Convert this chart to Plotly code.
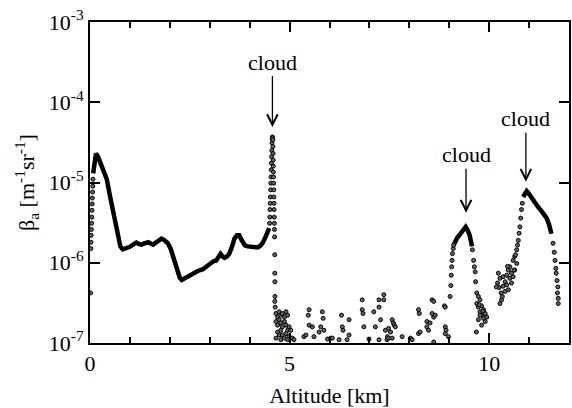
import numpy as np
import plotly.graph_objects as go

# ---------------- data ----------------
# continuous aerosol profile below the first cloud (km, m^-1 sr^-1)
profile_alt = [0.08, 0.12, 0.15, 0.2, 0.3, 0.42, 0.5, 0.58, 0.65, 0.71, 0.76, 0.82, 0.91,
               1.0, 1.08, 1.16, 1.22, 1.29, 1.36, 1.46, 1.52, 1.58, 1.65, 1.72, 1.79, 1.86,
               1.95, 2.02, 2.08, 2.14, 2.2, 2.25, 2.3, 2.4, 2.5, 2.58, 2.7, 2.83, 2.95, 3.04,
               3.1, 3.16, 3.22, 3.27, 3.32, 3.37, 3.43, 3.49, 3.55, 3.62, 3.68, 3.74, 3.79,
               3.83, 3.88, 3.95, 4.05, 4.15, 4.2, 4.26, 4.32, 4.38, 4.44, 4.49]
profile_beta = [1.3e-5, 2.0e-5, 2.3e-5, 2.1e-5, 1.55e-5, 1.1e-5, 6.8e-6, 4.2e-6, 2.7e-6, 1.9e-6,
                1.6e-6, 1.47e-6, 1.5e-6, 1.58e-6, 1.68e-6, 1.78e-6, 1.72e-6, 1.68e-6, 1.74e-6,
                1.8e-6, 1.74e-6, 1.68e-6, 1.78e-6, 1.92e-6, 2.0e-6, 1.92e-6, 1.75e-6, 1.5e-6,
                1.2e-6, 9.5e-7, 7.4e-7, 6.5e-7, 6.1e-7, 6.5e-7, 7.0e-7, 7.4e-7, 7.9e-7, 8.3e-7,
                9.2e-7, 1.0e-6, 1.05e-6, 1.06e-6, 1.15e-6, 1.29e-6, 1.2e-6, 1.15e-6, 1.2e-6,
                1.3e-6, 1.55e-6, 2.0e-6, 2.2e-6, 2.2e-6, 1.95e-6, 1.75e-6, 1.65e-6, 1.6e-6,
                1.58e-6, 1.55e-6, 1.55e-6, 1.62e-6, 1.75e-6, 2.0e-6, 2.35e-6, 2.7e-6]

# dense top of the cloud at ~9.4 km
peak2_alt = [9.11, 9.15, 9.2, 9.25, 9.3, 9.35, 9.41, 9.45, 9.5, 9.54, 9.57]
peak2_beta = [1.66e-6, 1.85e-6, 2.05e-6, 2.2e-6, 2.4e-6, 2.6e-6, 2.8e-6, 2.6e-6, 2.3e-6, 1.9e-6, 1.6e-6]

# dense top of the cloud at ~10.9 km
peak3_alt = [10.85, 10.9, 10.94, 11.0, 11.08, 11.14, 11.22, 11.31, 11.38, 11.44, 11.5, 11.56]
peak3_beta = [6.6e-6, 7.4e-6, 7.8e-6, 7.2e-6, 6.2e-6, 5.7e-6, 5.0e-6, 4.4e-6, 4.0e-6, 3.6e-6, 3.0e-6, 2.3e-6]

# individual points: near range
near_alt = [0.015, 0.02, 0.025, 0.03, 0.035, 0.04, 0.045, 0.05, 0.055, 0.06, 0.065, 0.07, 0.075]
near_beta = [4.2e-7, 1.5e-6, 1.8e-6, 2.2e-6, 2.6e-6, 3.1e-6, 3.7e-6, 4.5e-6, 5.4e-6, 6.4e-6,
             7.6e-6, 9.0e-6, 1.1e-5]

# individual points: cloud at ~4.6 km (rising and falling edges)
cloud1_alt = [4.50, 4.505, 4.51, 4.515, 4.52, 4.525, 4.53, 4.535, 4.54, 4.545, 4.55, 4.555,
              4.56, 4.565, 4.57, 4.575,
              4.58, 4.583, 4.586, 4.589, 4.592, 4.595, 4.598, 4.601, 4.604, 4.607, 4.61,
              4.613, 4.616, 4.619, 4.622, 4.625, 4.628, 4.63, 4.632, 4.634]
cloud1_beta = [3.1e-6, 3.7e-6, 4.6e-6, 5.5e-6, 6.6e-6, 8.1e-6, 9.8e-6, 1.17e-5, 1.44e-5,
               1.74e-5, 2.1e-5, 2.5e-5, 3.1e-5, 3.5e-5, 3.7e-5, 3.6e-5,
               3.4e-5, 2.8e-5, 2.3e-5, 1.9e-5, 1.6e-5, 1.35e-5, 1.17e-5, 9.8e-6, 8.1e-6,
               6.6e-6, 5.5e-6, 4.6e-6, 3.7e-6, 3.1e-6, 2.6e-6, 2.1e-6, 1.26e-6, 7.4e-7,
               5.8e-7, 3.8e-7]

# individual points: noisy clear air 4.6 - 9 km
noise_alt = [4.66, 4.70, 4.74, 4.78, 4.82, 4.87, 4.91, 4.95, 4.66, 4.70, 4.74, 4.78, 4.82,
             4.87, 4.91, 4.95, 4.99, 5.03, 4.70, 4.74, 4.78, 4.82, 4.87, 4.91, 4.99, 5.07,
             5.11, 4.78, 4.95, 4.66, 4.64, 4.63,
             5.36, 5.41, 5.49, 5.47, 5.49, 5.57, 5.61, 5.74, 5.78, 5.82, 5.84, 5.86, 5.95,
             6.03, 6.07, 6.30, 6.32, 6.34, 6.49, 6.49, 6.24, 6.44, 6.82, 6.82, 6.84, 6.86,
             6.99, 7.11, 7.15, 7.24, 7.24, 7.36, 7.36, 7.28, 7.24, 7.40, 7.44,
             7.48, 7.53, 7.57, 7.60, 7.62, 7.65, 7.45, 7.48, 7.57, 7.82, 8.03, 8.07, 8.23,
             8.25, 8.23, 8.27, 8.44, 8.44, 8.48, 8.52, 8.57, 8.61, 8.57, 8.61, 8.65, 8.61,
             8.88, 8.90, 8.90, 8.92, 8.90, 8.98]
noise_beta = [2.33e-7, 2.1e-7, 2.45e-7, 2.22e-7, 2.33e-7, 2.1e-7, 2.45e-7, 2.22e-7, 1.85e-7,
              1.67e-7, 1.95e-7, 1.78e-7, 1.59e-7, 1.85e-7, 1.67e-7, 1.44e-7, 1.59e-7, 1.44e-7,
              1.37e-7, 1.26e-7, 1.44e-7, 1.26e-7, 1.15e-7, 1.31e-7, 1.2e-7, 1.15e-7, 1.1e-7,
              1.1e-7, 1.1e-7, 1.15e-7, 2.8e-7, 3.3e-7,
              1.2e-7, 1.26e-7, 2.6e-7, 2.22e-7, 1.67e-7, 1.59e-7, 1.2e-7, 1.37e-7, 1.59e-7,
              2.45e-7, 2.03e-7, 1.44e-7, 1.12e-7, 1.15e-7, 1.15e-7, 2.22e-7, 1.59e-7, 1.44e-7,
              1.95e-7, 1.26e-7, 1.1e-7, 1.1e-7, 3.45e-7, 2.6e-7, 2.33e-7, 1.59e-7, 1.12e-7,
              2.45e-7, 1.59e-7, 3.45e-7, 2.8e-7, 4.0e-7, 3.45e-7, 1.95e-7, 1.1e-7, 1.44e-7,
              1.1e-7,
              1.52e-7, 1.37e-7, 1.95e-7, 1.78e-7, 1.67e-7, 1.59e-7, 1.2e-7, 1.15e-7, 1.15e-7,
              1.2e-7, 1.15e-7, 1.1e-7, 2.6e-7, 2.33e-7, 1.31e-7, 1.37e-7, 1.85e-7, 1.59e-7,
              1.44e-7, 1.78e-7, 3.45e-7, 3.3e-7, 2.33e-7, 2.1e-7, 2.22e-7, 1.03e-7,
              2.9e-7, 2.8e-7, 1.59e-7, 1.44e-7, 1.31e-7, 1.2e-7]

# individual points: cloud at ~9.4 km (edges and lower scatter)
cloud2_alt = [9.02, 9.04, 9.05, 9.06, 9.07, 9.08, 9.10, 9.11,
              9.58, 9.61, 9.63, 9.65, 9.66, 9.68,
              9.69, 9.73, 9.77, 9.69, 9.73, 9.81, 9.77, 9.86, 9.81, 9.90, 9.86, 9.94,
              9.90, 9.81, 9.73, 9.77, 9.75, 9.84]
cloud2_beta = [3.8e-7, 5.2e-7, 7.0e-7, 8.9e-7, 1.07e-6, 1.3e-6, 1.5e-6, 1.66e-6,
               1.45e-6, 1.07e-6, 8.9e-7, 7.7e-7, 5.8e-7, 1.37e-7,
               4.2e-7, 3.8e-7, 3.45e-7, 3.1e-7, 2.8e-7, 2.9e-7, 2.45e-7, 2.6e-7, 2.22e-7,
               2.33e-7, 2.03e-7, 2.1e-7, 1.85e-7, 1.67e-7, 1.95e-7, 2.22e-7, 3.0e-7, 2.5e-7]

# individual points: cloud at ~10.9 km (lower cluster and edges)
cloud3_alt = [10.23, 10.27, 10.21, 10.25, 10.30, 10.35, 10.40, 10.44, 10.48, 10.52, 10.56,
              10.60, 10.48, 10.40, 10.31, 10.27, 10.52, 10.60, 10.64, 10.56, 10.44, 10.35,
              10.69, 10.64, 10.18, 10.33, 10.46,
              10.62, 10.66, 10.69, 10.71, 10.73, 10.75, 10.77, 10.79, 10.81, 10.83,
              11.6, 11.63, 11.65, 11.67, 11.68, 11.7, 11.72, 11.73, 11.73, 11.71]
cloud3_beta = [7.4e-7, 6.4e-7, 5.6e-7, 4.9e-7, 4.2e-7, 5.1e-7, 5.8e-7, 7.0e-7, 8.1e-7,
               6.4e-7, 5.6e-7, 6.7e-7, 4.6e-7, 4.4e-7, 3.45e-7, 3.1e-7, 8.9e-7, 1.07e-6,
               1.2e-6, 7.4e-7, 5.3e-7, 6.7e-7, 9.8e-7, 8.1e-7, 5.0e-7, 3.8e-7, 9.0e-7,
               8.1e-7, 1.26e-6, 1.45e-6, 1.66e-6, 1.9e-6, 2.33e-6, 2.8e-6, 3.6e-6, 4.6e-6,
               5.5e-6,
               1.75e-6, 1.35e-6, 1.07e-6, 8.5e-7, 7.4e-7, 6.0e-7, 5.0e-7, 3.6e-7, 3.1e-7,
               4.2e-7]

# cloud labels: altitude of arrow and backscatter at arrow tip, text offset (px)
cloud_alt = [4.57, 9.42, 10.92]
cloud_tip = [4.9e-5, 4.2e-6, 1.02e-5]
cloud_label_offset = [-65, -58, -63]
cloud_label = ["cloud", "cloud", "cloud"]

ytick_vals = [1e-7, 1e-6, 1e-5, 1e-4, 1e-3]
ytick_text = ["10<sup>-7</sup>", "10<sup>-6</sup>", "10<sup>-5</sup>", "10<sup>-4</sup>", "10<sup>-3</sup>"]
xtick_vals = [0, 5, 10]
xtick_text = ["0", "5", "10"]

# ---------------- figure ----------------
FONT = "Times New Roman, Liberation Serif, Times, serif"
fig = go.Figure()

line_style = dict(color="black", width=4.5)
for xs, ys in [(profile_alt, profile_beta), (peak2_alt, peak2_beta), (peak3_alt, peak3_beta)]:
    fig.add_trace(go.Scatter(x=xs, y=ys, mode="lines", line=line_style,
                             hoverinfo="skip", showlegend=False))

pts_x = near_alt + cloud1_alt + noise_alt + cloud2_alt + cloud3_alt
pts_y = near_beta + cloud1_beta + noise_beta + cloud2_beta + cloud3_beta
fig.add_trace(go.Scatter(x=pts_x, y=pts_y, mode="markers",
                         marker=dict(size=4, color="rgb(100,100,100)",
                                     line=dict(color="black", width=1)),
                         showlegend=False))

for a, t, off, lab in zip(cloud_alt, cloud_tip, cloud_label_offset, cloud_label):
    fig.add_annotation(x=a, y=np.log10(t), xref="x", yref="y", text=lab,
                       showarrow=True, arrowhead=5, arrowsize=1.6, arrowwidth=1.3,
                       arrowcolor="black", ax=0, ay=off,
                       font=dict(family=FONT, size=22, color="black"))

axis_common = dict(showline=True, linecolor="black", linewidth=2, mirror="ticks",
                   ticks="inside", tickcolor="black", tickwidth=2, showgrid=False,
                   zeroline=False, tickfont=dict(family=FONT, size=22, color="black"))

fig.update_xaxes(range=[0, 12], tickmode="array", tickvals=xtick_vals, ticktext=xtick_text,
                 ticklen=10,
                 minor=dict(ticks="inside", dtick=1, ticklen=6, tickwidth=2, tickcolor="black",
                            showgrid=False),
                 title=dict(text="Altitude [km]", font=dict(family=FONT, size=22, color="black"),
                            standoff=14),
                 **axis_common)
fig.update_yaxes(type="log", range=[-7, -3], tickmode="array", tickvals=ytick_vals,
                 ticktext=ytick_text, ticklen=10,
                 title=dict(text="β<sub>a</sub> [m<sup>-1</sup>sr<sup>-1</sup>]",
                            font=dict(family=FONT, size=22, color="black"), standoff=8),
                 **axis_common)

fig.update_layout(width=572, height=408, margin=dict(l=90, r=1, t=22, b=65),
                  plot_bgcolor="white", paper_bgcolor="white",
                  font=dict(family=FONT, color="black"))

fig.write_html("out.html")
